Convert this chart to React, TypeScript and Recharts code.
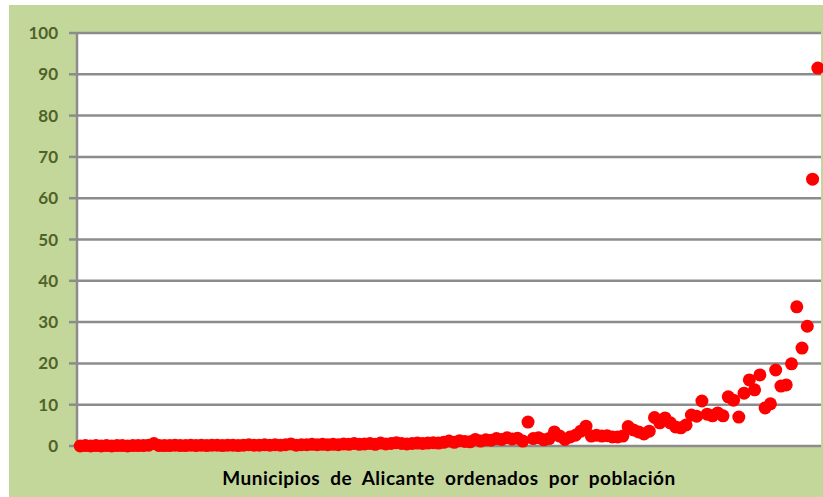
import { ScatterChart, Scatter, XAxis, YAxis, CartesianGrid } from 'recharts'

// Share values of the 141 municipalities, ordered by population
const shareValues = [
  0.0, 0.1, 0.0, 0.1, 0.0, 0.1, 0.0, 0.1, 0.1, 0.0,
  0.1, 0.1, 0.1, 0.2, 0.6, 0.1, 0.1, 0.1, 0.2, 0.1,
  0.1, 0.2, 0.1, 0.2, 0.1, 0.2, 0.2, 0.1, 0.2, 0.2,
  0.1, 0.2, 0.3, 0.2, 0.2, 0.3, 0.2, 0.3, 0.2, 0.3,
  0.5, 0.2, 0.3, 0.3, 0.4, 0.3, 0.4, 0.3, 0.4, 0.3,
  0.5, 0.4, 0.6, 0.4, 0.5, 0.6, 0.4, 0.7, 0.5, 0.6,
  0.8, 0.6, 0.5, 0.6, 0.7, 0.6, 0.7, 0.8, 0.7, 0.9,
  1.2, 0.9, 1.3, 1.1, 1.0, 1.6, 1.2, 1.5, 1.4, 1.8,
  1.6, 2.0, 1.7, 1.9, 1.2, 5.8, 1.8, 2.0, 1.5, 1.8,
  3.4, 2.4, 1.6, 2.2, 2.6, 3.6, 4.8, 2.4, 2.6, 2.4,
  2.5, 2.2, 2.2, 2.4, 4.7, 3.9, 3.4, 2.9, 3.6, 6.9,
  5.6, 6.8, 5.6, 4.6, 4.4, 5.1, 7.5, 7.2, 10.9, 7.7,
  7.3, 8.0, 7.3, 11.9, 11.1, 7.0, 12.8, 16.0, 13.6, 17.2,
  9.2, 10.2, 18.4, 14.5, 14.8, 19.9, 33.7, 23.7, 29.0, 64.6,
  91.5,
]

const yTicks = [0, 10, 20, 30, 40, 50, 60, 70, 80, 90, 100]

const xLabel = 'Municipios de Alicante ordenados por población'

const data = shareValues.map((v, i) => ({ pos: i, value: v }))

const RedDot = (props: any) => (
  <circle cx={props.cx} cy={props.cy} r={6.5} fill="#ff0000" />
)

export default function App() {
  return (
    <div style={{ position: 'absolute', left: 9, top: 5, width: 814, height: 492, background: '#c4d79b' }}>
      <ScatterChart width={814} height={492} margin={{ top: 28, right: 2, left: 0, bottom: 0 }}>
        <CartesianGrid vertical={false} fill="#ffffff" stroke="#8c8c8c" strokeWidth={2.5} />
        <XAxis
          type="number"
          dataKey="pos"
          domain={[-0.6, 140.6]}
          tick={false}
          axisLine={false}
          tickLine={false}
          height={51}
          label={{
            value: xLabel,
            position: 'insideBottom',
            offset: 12,
            style: {
              fontFamily: 'Lato',
              fontWeight: 700,
              fontSize: 19,
              fill: '#000000',
              wordSpacing: 5,
              letterSpacing: 0.5,
            },
          }}
        />
        <YAxis
          type="number"
          dataKey="value"
          domain={[0, 100]}
          ticks={yTicks}
          width={68}
          tickSize={8}
          tickMargin={11}
          axisLine={{ stroke: '#8c8c8c', strokeWidth: 2.5 }}
          tickLine={{ stroke: '#8c8c8c', strokeWidth: 2.5 }}
          tick={{ fill: '#4f6228', fontFamily: 'Lato', fontWeight: 700, fontSize: 17 }}
        />
        <Scatter data={data} shape={RedDot} isAnimationActive={false} />
      </ScatterChart>
    </div>
  )
}
